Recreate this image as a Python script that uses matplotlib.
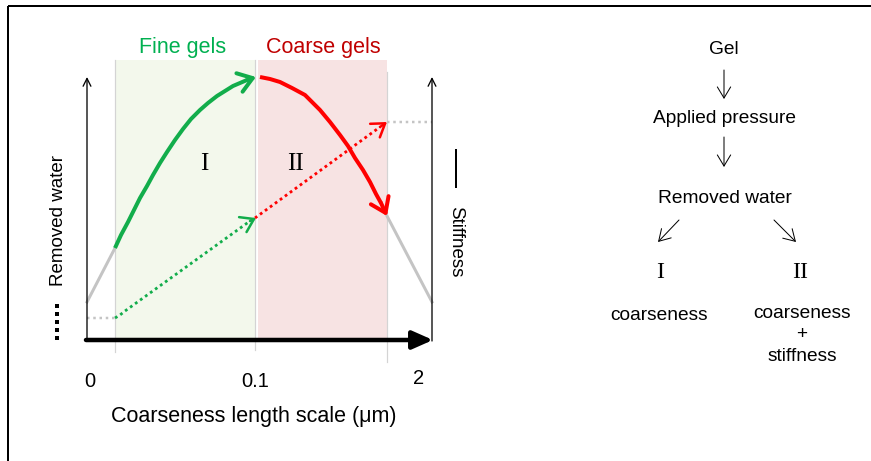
import matplotlib
matplotlib.use("Agg")
import matplotlib.pyplot as plt
from matplotlib.patches import Rectangle

# ---- schematic data (figure pixel coordinates, y downward) ----
removed_water_fine_x = [115, 121, 128, 134, 140, 147, 153, 160, 167, 175, 183, 191, 200, 208, 217, 225, 233, 240, 247]
removed_water_fine_y = [248, 235, 222, 210, 198, 186, 175, 163, 152, 140, 129, 119, 110, 103, 96, 91, 86, 83, 80]
removed_water_coarse_x = [260, 270, 280, 292, 305, 312, 320, 330, 340, 348, 355, 363, 370, 376, 381]
removed_water_coarse_y = [77, 79, 82, 88, 95, 102, 110, 122, 135, 146, 158, 170, 182, 194, 203]
stiffness_fine_x = [115, 120, 125, 250]
stiffness_fine_y = [318, 315, 311, 221]
stiffness_coarse_x = [255, 380]
stiffness_coarse_y = [218, 127]
grey_solid_left = ([87, 115], [302, 248])
grey_solid_right = ([387, 432], [216, 302])
grey_dot_left = ([87, 115], [318, 318])
grey_dot_right = ([387, 432], [122, 122])
tick_labels = ["0", "0.1", "2"]
tick_pos = [(90, 381), (255, 381), (419, 378)]

GREEN = "#12ad4b"
RED = "#ff0000"
GREY = "#c4c4c4"
SANS = ["Liberation Sans", "DejaVu Sans"]
SERIF = ["Liberation Serif", "DejaVu Serif"]

fig = plt.figure(figsize=(8.71, 4.61), dpi=100)
ax = fig.add_axes([0, 0, 1, 1])
ax.set_xlim(0, 871)
ax.set_ylim(461, 0)
ax.axis("off")

PX = 0.72  # points per pixel

# frame
ax.plot([8, 871], [6, 6], color="black", lw=2 * PX, solid_capstyle="butt")
ax.plot([8, 8], [6, 461], color="black", lw=2 * PX, solid_capstyle="butt")

# shaded regions
ax.add_patch(Rectangle((115, 60), 140, 280, facecolor="#f3f8ec", edgecolor="none", zorder=0))
ax.add_patch(Rectangle((258, 60), 129, 280, facecolor="#f7e3e3", edgecolor="none", zorder=0))
for x, y0, y1 in [(115, 60, 352), (255, 60, 350), (387, 72, 362)]:
    ax.plot([x, x], [y0, y1], color="#d4d4d4", lw=1.2 * PX, zorder=1)

# axes arrows
for x in (87, 432):
    ax.annotate("", xy=(x, 77), xytext=(x, 341),
                arrowprops=dict(arrowstyle="->", lw=1.3 * PX, color="black",
                                mutation_scale=14, shrinkA=0, shrinkB=0), zorder=3)
ax.annotate("", xy=(433, 340), xytext=(86, 340),
            arrowprops=dict(arrowstyle="-|>,head_length=0.95,head_width=0.42", lw=4.5 * PX,
                            color="black", mutation_scale=13, shrinkA=0, shrinkB=0), zorder=4)

# grey segments
ax.plot(*grey_solid_left, color=GREY, lw=3 * PX, zorder=2)
ax.plot(*grey_solid_right, color=GREY, lw=3 * PX, zorder=2)
ax.plot(*grey_dot_left, color=GREY, lw=2.5 * PX, ls=(0, (1, 1.5)), zorder=2)
ax.plot(*grey_dot_right, color=GREY, lw=2.5 * PX, ls=(0, (1, 1.5)), zorder=2)

# removed water curves
ax.plot(removed_water_fine_x, removed_water_fine_y, color=GREEN, lw=4 * PX,
        solid_capstyle="butt", solid_joinstyle="round", zorder=3)
ax.annotate("", xy=(256, 77), xytext=(removed_water_fine_x[-1], removed_water_fine_y[-1]),
            arrowprops=dict(arrowstyle="->,head_length=0.5,head_width=0.35", lw=4 * PX, color=GREEN,
                            mutation_scale=20, shrinkA=0, shrinkB=0), zorder=3)
ax.plot(removed_water_coarse_x, removed_water_coarse_y, color=RED, lw=4 * PX,
        solid_capstyle="butt", solid_joinstyle="round", zorder=3)
ax.annotate("", xy=(387, 216), xytext=(removed_water_coarse_x[-1], removed_water_coarse_y[-1]),
            arrowprops=dict(arrowstyle="->,head_length=0.5,head_width=0.35", lw=4 * PX, color=RED,
                            mutation_scale=20, shrinkA=0, shrinkB=0), zorder=3)

# stiffness dotted
ax.plot(stiffness_fine_x, stiffness_fine_y, color=GREEN, lw=2.8 * PX, ls=(0, (1, 1.2)), zorder=3)
ax.annotate("", xy=(256, 218), xytext=(stiffness_fine_x[-1], stiffness_fine_y[-1]),
            arrowprops=dict(arrowstyle="->,head_length=0.45,head_width=0.3", lw=2.5 * PX, color=GREEN,
                            mutation_scale=20, shrinkA=0, shrinkB=0), zorder=3)
ax.plot(stiffness_coarse_x, stiffness_coarse_y, color=RED, lw=2.8 * PX, ls=(0, (1, 1.2)), zorder=3)
ax.annotate("", xy=(387, 122), xytext=(stiffness_coarse_x[-1], stiffness_coarse_y[-1]),
            arrowprops=dict(arrowstyle="->,head_length=0.45,head_width=0.3", lw=2.5 * PX, color=RED,
                            mutation_scale=20, shrinkA=0, shrinkB=0), zorder=3)

# legend marks
ax.plot([57, 57], [304, 340], color="black", lw=4 * PX, ls=(0, (1, 1)), solid_capstyle="butt")
ax.plot([456, 456], [150, 187], color="black", lw=2 * PX)

# texts
ax.text(183, 47, "Fine gels", color="#00b050", fontsize=15.5, family=SANS, ha="center", va="center")
ax.text(323, 47, "Coarse gels", color="#c00000", fontsize=15.5, family=SANS, ha="center", va="center")
ax.text(204, 164, "I", fontsize=18, family=SERIF, ha="center", va="center")
ax.text(295, 164, "II", fontsize=18, family=SERIF, ha="center", va="center")
ax.text(58, 220, "Removed water", fontsize=13.5, family=SANS, rotation=90, ha="center", va="center")
ax.text(456, 242, "Stiffness", fontsize=13.5, family=SANS, rotation=-90, ha="center", va="center")
for lbl, (x, y) in zip(tick_labels, tick_pos):
    ax.text(x, y, lbl, fontsize=14.5, family=SANS, ha="center", va="center")
ax.text(254, 416, "Coarseness length scale (\u03bcm)", fontsize=15.5, family=SANS,
        ha="center", va="center")

# flowchart
flow_texts = [("Gel", 724, 50), ("Applied pressure", 724, 118), ("Removed water", 725, 198),
              ("coarseness", 659, 315), ("coarseness", 802, 313), ("+", 802, 334),
              ("stiffness", 802, 356)]
for t, x, y in flow_texts:
    ax.text(x, y, t, fontsize=13.8, family=SANS, ha="center", va="center")
ax.text(660, 272, "I", fontsize=17, family=SERIF, ha="center", va="center")
ax.text(800, 272, "II", fontsize=17, family=SERIF, ha="center", va="center")
flow_arrows = [((724, 70), (724, 99)), ((724, 137), (724, 167)),
               ((679, 220), (658, 242)), ((774, 220), (796, 242))]
for (x0, y0), (x1, y1) in flow_arrows:
    ax.annotate("", xy=(x1, y1), xytext=(x0, y0),
                arrowprops=dict(arrowstyle="->,head_length=0.5,head_width=0.3", lw=1 * PX,
                                color="black", mutation_scale=16, shrinkA=0, shrinkB=0))

fig.savefig("out.png", dpi=100)
